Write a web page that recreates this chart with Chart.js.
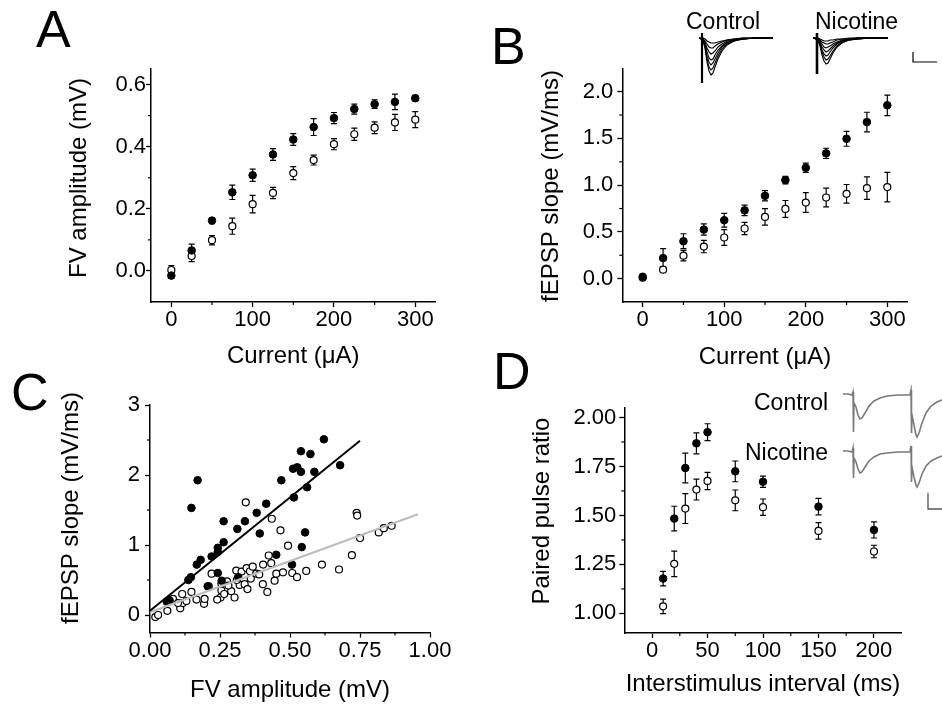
<!DOCTYPE html>
<html><head><meta charset="utf-8">
<script src="https://cdn.jsdelivr.net/npm/chart.js@4.4.1/dist/chart.umd.min.js"></script>
<style>
html,body{margin:0;padding:0;background:#fff;}
#wrap{position:relative;width:942px;height:711px;overflow:hidden;font-family:"Liberation Sans",Arial,sans-serif;background:#fff;}
canvas{position:absolute;}
.lbl{position:absolute;line-height:1;color:#000;white-space:nowrap;}
.big{font-size:52px;}
.ins{font-size:23px;}
</style></head><body><div id="wrap">
<canvas id="cA" width="942" height="711" style="left:0;top:0"></canvas>
<canvas id="cB" width="942" height="711" style="left:0;top:0"></canvas>
<canvas id="cC" width="942" height="711" style="left:0;top:0"></canvas>
<canvas id="cD" width="942" height="711" style="left:0;top:0"></canvas>
<canvas id="tBc" width="76" height="60" style="left:699px;top:28px"></canvas>
<canvas id="tBn" width="130" height="60" style="left:813px;top:28px"></canvas>
<canvas id="tDc" width="99" height="55" style="left:843px;top:385px"></canvas>
<canvas id="tDn" width="99" height="75" style="left:843px;top:440px"></canvas>
<div class="lbl big" style="left:36px;top:3px">A</div>
<div class="lbl big" style="left:491px;top:20px">B</div>
<div class="lbl big" style="left:11px;top:366px">C</div>
<div class="lbl big" style="left:493px;top:345px">D</div>
<div class="lbl ins" style="left:686px;top:10px">Control</div>
<div class="lbl ins" style="left:815px;top:10px">Nicotine</div>
<div class="lbl ins" style="left:754px;top:391px">Control</div>
<div class="lbl ins" style="left:745px;top:441px">Nicotine</div>
</div>
<script>
// ---------- DATA ----------
const currentUA = [0,25,50,75,100,125,150,175,200,225,250,275,300];
const fvControl = [-0.015,0.066,0.162,0.253,0.308,0.375,0.423,0.463,0.492,0.521,0.537,0.544,0.556];
const fvControlErr = [0.009,0.02,0.01,0.023,0.02,0.019,0.019,0.027,0.018,0.016,0.014,0.025,0.009];
const fvNicotine = [0.003,0.048,0.099,0.144,0.215,0.251,0.315,0.357,0.408,0.44,0.461,0.478,0.487];
const fvNicotineErr = [0.014,0.018,0.015,0.026,0.028,0.018,0.021,0.016,0.018,0.02,0.019,0.026,0.026];

const slopeControl = [0.02,0.22,0.40,0.525,0.625,0.73,0.886,1.054,1.186,1.34,1.496,1.675,1.854];
const slopeControlErr = [0.01,0.1,0.08,0.06,0.073,0.057,0.055,0.04,0.05,0.055,0.08,0.105,0.11];
const slopeNicotine = [0.01,0.096,0.246,0.343,0.44,0.536,0.66,0.746,0.814,0.868,0.907,0.968,0.979];
const slopeNicotineErr = [0.01,0.03,0.057,0.066,0.084,0.066,0.088,0.09,0.105,0.1,0.1,0.12,0.157];

const scatterControlFV = [0.170,0.148,0.263,0.312,0.339,0.381,0.415,0.392,0.469,0.511,0.526,0.539,0.539,0.573,0.587,0.621,0.679,0.561,0.514,0.554,0.542,0.451,0.507,0.263,0.242,0.242,0.220,0.181,0.167,0.146,0.137,0.242,0.206,0.256,0.315,0.060,0.070];
const scatterControlSlope = [1.925,1.53,1.34,1.23,1.34,1.46,1.59,1.165,1.925,2.09,2.11,2.045,2.34,2.30,2.045,2.51,2.14,1.825,1.68,1.18,0.97,0.86,0.72,1.04,0.96,0.90,0.836,0.788,0.72,0.54,0.50,0.60,0.41,0.49,0.54,0.19,0.21];
const scatterNicotineFV = [0.019,0.029,0.062,0.082,0.108,0.115,0.117,0.148,0.166,0.193,0.195,0.21,0.22,0.252,0.255,0.255,0.275,0.29,0.302,0.308,0.32,0.327,0.338,0.345,0.348,0.357,0.367,0.38,0.404,0.403,0.419,0.424,0.433,0.445,0.451,0.466,0.475,0.493,0.508,0.525,0.558,0.614,0.675,0.721,0.342,0.435,0.738,0.740,0.75,0.817,0.835,0.863,0.265,0.28,0.24,0.31,0.39,0.13,0.10,0.36];
const scatterNicotineSlope = [-0.03,0.00,0.06,0.23,0.095,0.30,0.17,0.33,0.22,0.16,0.23,0.41,0.59,0.25,0.35,0.45,0.48,0.34,0.25,0.635,0.43,0.62,0.44,0.67,0.37,0.625,0.69,0.59,0.72,0.44,0.33,0.85,0.74,0.49,0.59,1.21,0.61,0.99,0.60,0.54,0.63,0.72,0.65,0.855,1.61,1.375,1.46,1.42,1.10,1.18,1.24,1.275,0.30,0.42,0.22,0.50,0.58,0.20,0.17,0.52];
const fitControlFV = [0, 0.75];
const fitControlSlope = [0.06, 2.49];
const fitNicotineFV = [0, 0.957];
const fitNicotineSlope = [0.04, 1.44];

const isiMs = [10,20,30,40,50,75,100,150,200];
const pprControl = [1.178,1.484,1.742,1.868,1.925,1.725,1.672,1.545,1.426];
const pprControlErr = [0.037,0.063,0.076,0.054,0.043,0.053,0.029,0.042,0.041];
const pprNicotine = [1.036,1.253,1.535,1.632,1.676,1.577,1.542,1.421,1.316];
const pprNicotineErr = [0.037,0.065,0.076,0.053,0.044,0.053,0.042,0.042,0.032];

// tick values
const currentTicks = [0,100,200,300], currentMinor = [50,150,250];
const fvTicks = [0,0.2,0.4,0.6], fvMinor = [0.1,0.3,0.5];
const slopeTicks = [0,0.5,1,1.5,2], slopeMinor = [0.25,0.75,1.25,1.75];
const cSlopeTicks = [0,1,2,3], cSlopeMinor = [0.5,1.5,2.5];
const cFvTicks = [0,0.25,0.5,0.75,1], cFvMinor = [0.125,0.375,0.625,0.875];
const pprTicks = [1,1.25,1.5,1.75,2], pprMinor = [1.125,1.375,1.625,1.875];
const isiTicks = [0,50,100,150,200], isiMinor = [25,75,125,175];

// inset traces (read from the example recordings, arbitrary units)
const bCtlTime = [0,4,6,8,10,12,14,16,19,23,28,35,44,56,74];
const bCtlTraces = [
  [0,-2,-10,-24,-33,-37,-35,-29,-21,-13,-7,-3,-1,0,0],
  [0,-2,-9,-21,-29,-32,-30,-25,-18,-11,-6,-3,-1,0,0],
  [0,-2,-8,-18,-24,-27,-25,-21,-15,-9,-5,-2,-1,0,0],
  [0,-1,-6,-14,-20,-22,-21,-17,-12,-8,-4,-2,-1,0,0],
  [0,-1,-4,-10,-14,-16,-15,-13,-9,-6,-3,-2,-1,0,0],
  [0,-1,-3,-6,-9,-10,-10,-8,-6,-4,-2,-1,0,0,0],
  [0,0,-1,-3,-4,-5,-5,-5,-4,-3,-2,-1,0,0,0]
];
const bCtlArtifactT = [3,3], bCtlArtifactV = [5,-45];
const bNicTime = [0,5,7,9,11,13,15,17,20,24,29,36,45,57,75];
const bNicTraces = [
  [0,-2,-8,-17,-23,-26,-25,-21,-15,-9,-5,-2,-1,0,0],
  [0,-2,-7,-14,-19,-22,-21,-18,-13,-8,-4,-2,-1,0,0],
  [0,-1,-6,-12,-16,-18,-17,-14,-10,-6,-3,-2,-1,0,0],
  [0,-1,-4,-9,-12,-14,-13,-11,-8,-5,-3,-1,0,0,0],
  [0,-1,-3,-6,-9,-10,-9,-8,-6,-4,-2,-1,0,0,0],
  [0,0,-2,-4,-5,-6,-6,-5,-4,-2,-1,-1,0,0,0],
  [0,0,-1,-2,-3,-3,-3,-2,-2,-1,-1,0,0,0,0]
];
const bNicArtifactT = [4,4], bNicArtifactV = [5,-36];
const bScaleT = [100,100,124], bScaleV = [-14,-24,-24];
const dTime = [0,5,9,10,10.5,11,13,15,17,19,22,26,31,37,44,55,67,68,68.5,69,71,73,74,76,79,83,88,94,99];
const dCtlTrace = [1,1,0,3,-37,-8,-12,-20,-24,-23,-18,-11,-6,-3,-1,0,0,5,-38,-20,-30,-40,-42,-38,-28,-18,-11,-7,-5];
const dNicTrace = [1,1,0,4,-26,-6,-10,-17,-21,-20,-15,-9,-5,-2,-1,0,0,6,-30,-15,-25,-33,-35,-31,-22,-14,-9,-6,-4];
const dScaleT = [85,85,99], dScaleV = [-41,-57,-57];

// ---------- CHARTS ----------
Chart.defaults.font.family = '"Liberation Sans", Arial, sans-serif';
Chart.defaults.color = '#000';
const W = 942, H = 711;
const FONT_TICK = 22, FONT_TITLE = 24;

const errorBars = {
  id: 'errorBars',
  beforeDatasetsDraw(chart) {
    const ctx = chart.ctx, xs = chart.scales.x, ys = chart.scales.y;
    chart.data.datasets.forEach(ds => {
      if (!ds.errors) return;
      ctx.save();
      ctx.strokeStyle = '#000'; ctx.lineWidth = 1.2;
      ds.data.forEach((p, i) => {
        const e = ds.errors[i];
        const px = xs.getPixelForValue(p.x);
        const y1 = ys.getPixelForValue(p.y + e), y2 = ys.getPixelForValue(p.y - e);
        ctx.beginPath();
        ctx.moveTo(px, y1); ctx.lineTo(px, y2);
        ctx.moveTo(px - 3, y1); ctx.lineTo(px + 3, y1);
        ctx.moveTo(px - 3, y2); ctx.lineTo(px + 3, y2);
        ctx.stroke();
      });
      ctx.restore();
    });
  }
};
const minorTicks = {
  id: 'minorTicks',
  afterDraw(chart, args, opts) {
    const ctx = chart.ctx;
    ['x','y'].forEach(k => {
      const s = chart.scales[k], list = opts[k];
      if (!s || !list) return;
      ctx.save(); ctx.strokeStyle = '#000'; ctx.lineWidth = 1.2;
      list.forEach(v => {
        const p = s.getPixelForValue(v);
        ctx.beginPath();
        if (k === 'x') { ctx.moveTo(p, s.top); ctx.lineTo(p, s.top + 3); }
        else { ctx.moveTo(s.right, p); ctx.lineTo(s.right - 3, p); }
        ctx.stroke();
      });
      ctx.restore();
    });
  }
};
// y-axis title drawn rotated at a chosen centre (the source centres it slightly above the axis middle)
const yTitle = {
  id: 'yTitle',
  afterDraw(chart, args, opts) {
    if (!opts.text) return;
    const ctx = chart.ctx;
    ctx.save();
    ctx.translate(opts.x, opts.y);
    ctx.rotate(-Math.PI / 2);
    ctx.font = FONT_TITLE + 'px "Liberation Sans", Arial, sans-serif';
    ctx.fillStyle = '#000';
    ctx.textAlign = 'center';
    ctx.textBaseline = 'middle';
    ctx.fillText(opts.text, 0, 0);
    ctx.restore();
  }
};

function pts(xs, ys) { return xs.map((x, i) => ({x: x, y: ys[i]})); }
function filled(xs, ys, err, r) {
  return {data: pts(xs, ys), errors: err, backgroundColor: '#000', borderColor: '#000', borderWidth: 1, pointRadius: r || 3.8};
}
function open(xs, ys, err, r) {
  return {data: pts(xs, ys), errors: err, backgroundColor: '#fff', borderColor: '#000', borderWidth: 1.2, pointRadius: r || 3.5};
}
function axis(min, max, ticks, fmt, title, tickPad, fitFn) {
  return {
    type: 'linear', min: min, max: max,
    afterBuildTicks: s => { s.ticks = ticks.map(v => ({value: v})); },
    afterFit: fitFn,
    grid: {display: true, drawOnChartArea: false, drawTicks: true, tickLength: 5, tickWidth: 1.3, tickColor: '#000'},
    border: {display: true, color: '#000', width: 1.5},
    ticks: {padding: tickPad, color: '#000', font: {size: FONT_TICK}, autoSkip: false, maxRotation: 0, callback: fmt},
    title: {display: !!title, text: title || '', color: '#000', font: {size: FONT_TITLE}, padding: 0}
  };
}
function panel(id, area, o) {
  const tlh = FONT_TITLE * 1.2;
  const PL = area.left - 90;
  const Hx = o.xTitleY - area.bottom + tlh / 2;
  return new Chart(document.getElementById(id), {
    type: 'scatter',
    data: {datasets: o.datasets},
    options: {
      responsive: false, animation: false, events: [],
      layout: {padding: {left: PL, top: area.top, right: W - area.right, bottom: H - area.bottom - Hx}},
      plugins: {legend: {display: false}, tooltip: {enabled: false},
        minorTicks: {x: o.xMinor, y: o.yMinor},
        yTitle: {text: o.yTitle, x: o.yTitleX, y: o.yTitleY}},
      scales: {
        x: Object.assign(axis(o.xMin, o.xMax, o.xTicks, o.xFmt, o.xTitle, 0, s => { s.height = Hx; }), {position: 'bottom'}),
        y: Object.assign(axis(o.yMin, o.yMax, o.yTicks, o.yFmt, null, o.yPad, s => { s.width = area.left - PL; }), {position: 'left'})
      }
    },
    plugins: [errorBars, minorTicks, yTitle]
  });
}
const f0 = v => String(v);
const f1 = v => Number(v).toFixed(1);
const f2 = v => Number(v).toFixed(2);

panel('cA', {left: 151, top: 69, right: 435.6, bottom: 302}, {
  yTitleX: 79, yTitleY: 178, xTitleY: 356, yPad: 0,
  xMin: -25, xMax: 325, yMin: -0.1, yMax: 0.65,
  xTicks: currentTicks, xMinor: currentMinor, yTicks: fvTicks, yMinor: fvMinor,
  xFmt: f0, yFmt: f1, xTitle: 'Current (\u03bcA)', yTitle: 'FV amplitude (mV)',
  datasets: [filled(currentUA, fvControl, fvControlErr), open(currentUA, fvNicotine, fvNicotineErr)]
});
panel('cB', {left: 622.3, top: 68.3, right: 907.7, bottom: 302}, {
  yTitleX: 551, yTitleY: 186, xTitleY: 357, yPad: 4,
  xMin: -25, xMax: 325, yMin: -0.25, yMax: 2.25,
  xTicks: currentTicks, xMinor: currentMinor, yTicks: slopeTicks, yMinor: slopeMinor,
  xFmt: f0, yFmt: f1, xTitle: 'Current (\u03bcA)', yTitle: 'fEPSP slope (mV/ms)',
  datasets: [filled(currentUA, slopeControl, slopeControlErr), open(currentUA, slopeNicotine, slopeNicotineErr)]
});
panel('cC', {left: 150, top: 405, right: 430, bottom: 632.5}, {
  yTitleX: 71, yTitleY: 508, xTitleY: 690, yPad: 5,
  xMin: 0, xMax: 1, yMin: -0.25, yMax: 3,
  xTicks: cFvTicks, xMinor: cFvMinor, yTicks: cSlopeTicks, yMinor: cSlopeMinor,
  xFmt: f2, yFmt: f0, xTitle: 'FV amplitude (mV)', yTitle: 'fEPSP slope (mV/ms)',
  datasets: [
    {data: pts(fitControlFV, fitControlSlope), showLine: true, borderColor: '#000', borderWidth: 2, pointRadius: 0},
    {data: pts(fitNicotineFV, fitNicotineSlope), showLine: true, borderColor: '#bdbdbd', borderWidth: 2.2, pointRadius: 0},
    filled(scatterControlFV, scatterControlSlope, null, 3.8),
    open(scatterNicotineFV, scatterNicotineSlope, null, 3.5)
  ]
});
panel('cD', {left: 624.3, top: 407.7, right: 901.7, bottom: 633}, {
  yTitleX: 542.5, yTitleY: 511, xTitleY: 684, yPad: 3,
  xMin: -25, xMax: 225, yMin: 0.9, yMax: 2.05,
  xTicks: isiTicks, xMinor: isiMinor, yTicks: pprTicks, yMinor: pprMinor,
  xFmt: f0, yFmt: f2, xTitle: 'Interstimulus interval (ms)', yTitle: 'Paired pulse ratio',
  datasets: [filled(isiMs, pprControl, pprControlErr), open(isiMs, pprNicotine, pprNicotineErr)]
});

function traceChart(id, xr, yr, datasets) {
  return new Chart(document.getElementById(id), {
    type: 'scatter',
    data: {datasets: datasets},
    options: {
      responsive: false, animation: false, events: [],
      layout: {padding: 0},
      plugins: {legend: {display: false}, tooltip: {enabled: false}},
      scales: {x: {type: 'linear', display: false, min: xr[0], max: xr[1]}, y: {type: 'linear', display: false, min: yr[0], max: yr[1]}}
    }
  });
}
function tr(t, v, color, w) {
  return {data: pts(t, v), showLine: true, borderColor: color, borderWidth: w, pointRadius: 0, tension: 0, clip: false};
}
traceChart('tBc', [0, 76], [-50, 10],
  [tr(bCtlArtifactT, bCtlArtifactV, '#000', 2.2)].concat(bCtlTraces.map(v => tr(bCtlTime, v, '#000', 1.1))));
traceChart('tBn', [0, 130], [-50, 10],
  [tr(bNicArtifactT, bNicArtifactV, '#000', 2.6), tr(bScaleT, bScaleV, '#000', 1.2)].concat(bNicTraces.map(v => tr(bNicTime, v, '#000', 1.1))));
traceChart('tDc', [0, 99], [-45, 10], [tr(dTime, dCtlTrace, '#7a7a7a', 1.6)]);
traceChart('tDn', [0, 99], [-63, 12], [tr(dTime, dNicTrace, '#7a7a7a', 1.6), tr(dScaleT, dScaleV, '#555', 1.3)]);
</script>
</body></html>
